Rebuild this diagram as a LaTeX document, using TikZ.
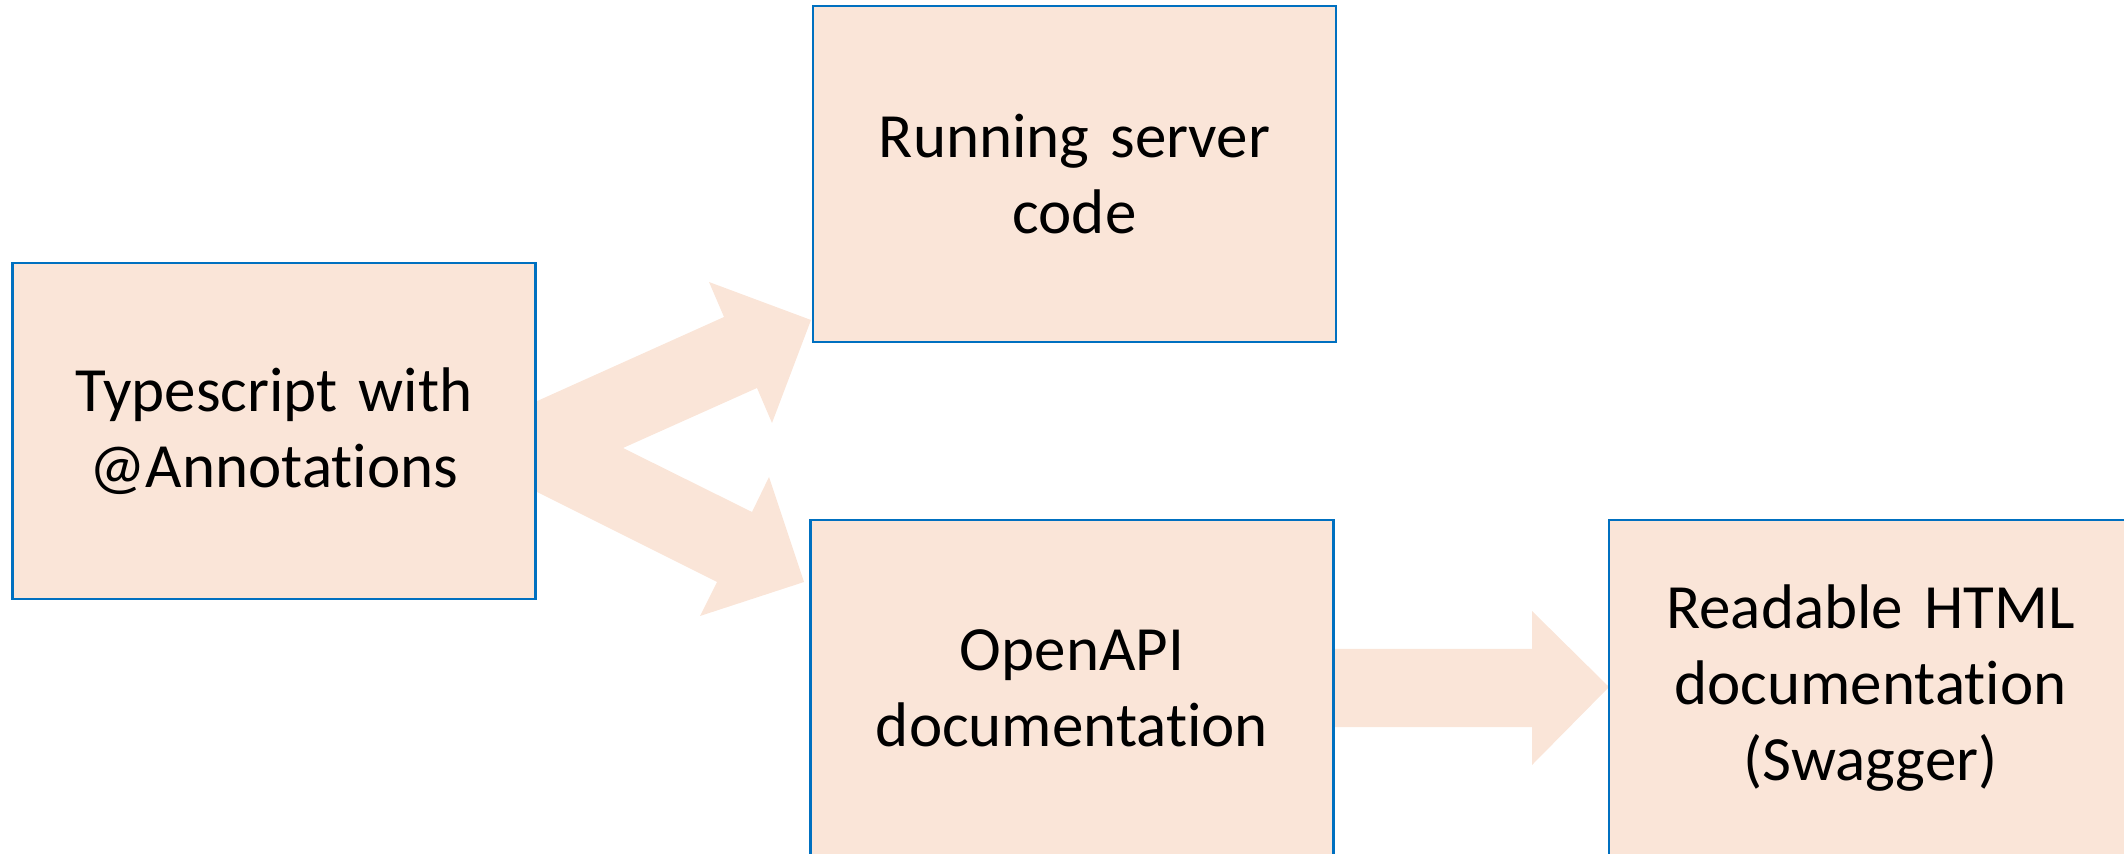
\documentclass[tikz,border=0pt]{standalone}
\usepackage{fontspec}
\setmainfont{Carlito}[Ligatures={NoCommon}]
\usetikzlibrary{backgrounds}
\definecolor{peach}{RGB}{250,229,216}
\definecolor{boxblue}{RGB}{0,112,192}
\tikzset{
  box/.style={draw=boxblue, line width=1.1pt, fill=peach, rectangle,
    minimum width=261.5pt, minimum height=168pt, inner sep=0pt,
    text width=250pt, align=center, font=\fontsize{31.5}{38}\selectfont},
  fat/.style={fill=peach, draw=none}
}
\begin{document}
\begin{tikzpicture}[x=0.5pt, y=-0.5pt]
\useasboundingbox (0,0) rectangle (2124,854);
\clip (0,0) rectangle (2124,854);
\node[box] (ts) at (274,431) {Typescript with\\@Annotations};
\node[box] (srv) at (1074.5,174) {Running server\\code};
\node[box] (oapi) at (1072,688) {OpenAPI\\documentation};
\node[box] (html) at (1870.5,688) {Readable HTML\\documentation\\(Swagger)};
\begin{scope}[on background layer]
\fill[fat] (535,402) -- (724,317) -- (709,282) -- (811,320) -- (772,423) -- (757,388)
  -- (623,448) -- (752,512) -- (769,477) -- (804,582) -- (700,616) -- (717,582)
  -- (535,491) -- cycle;
\fill[fat] (1333,649) -- (1532,649) -- (1532,611) -- (1609,687) -- (1532,765)
  -- (1532,727) -- (1333,727) -- cycle;
\end{scope}
\end{tikzpicture}
\end{document}
